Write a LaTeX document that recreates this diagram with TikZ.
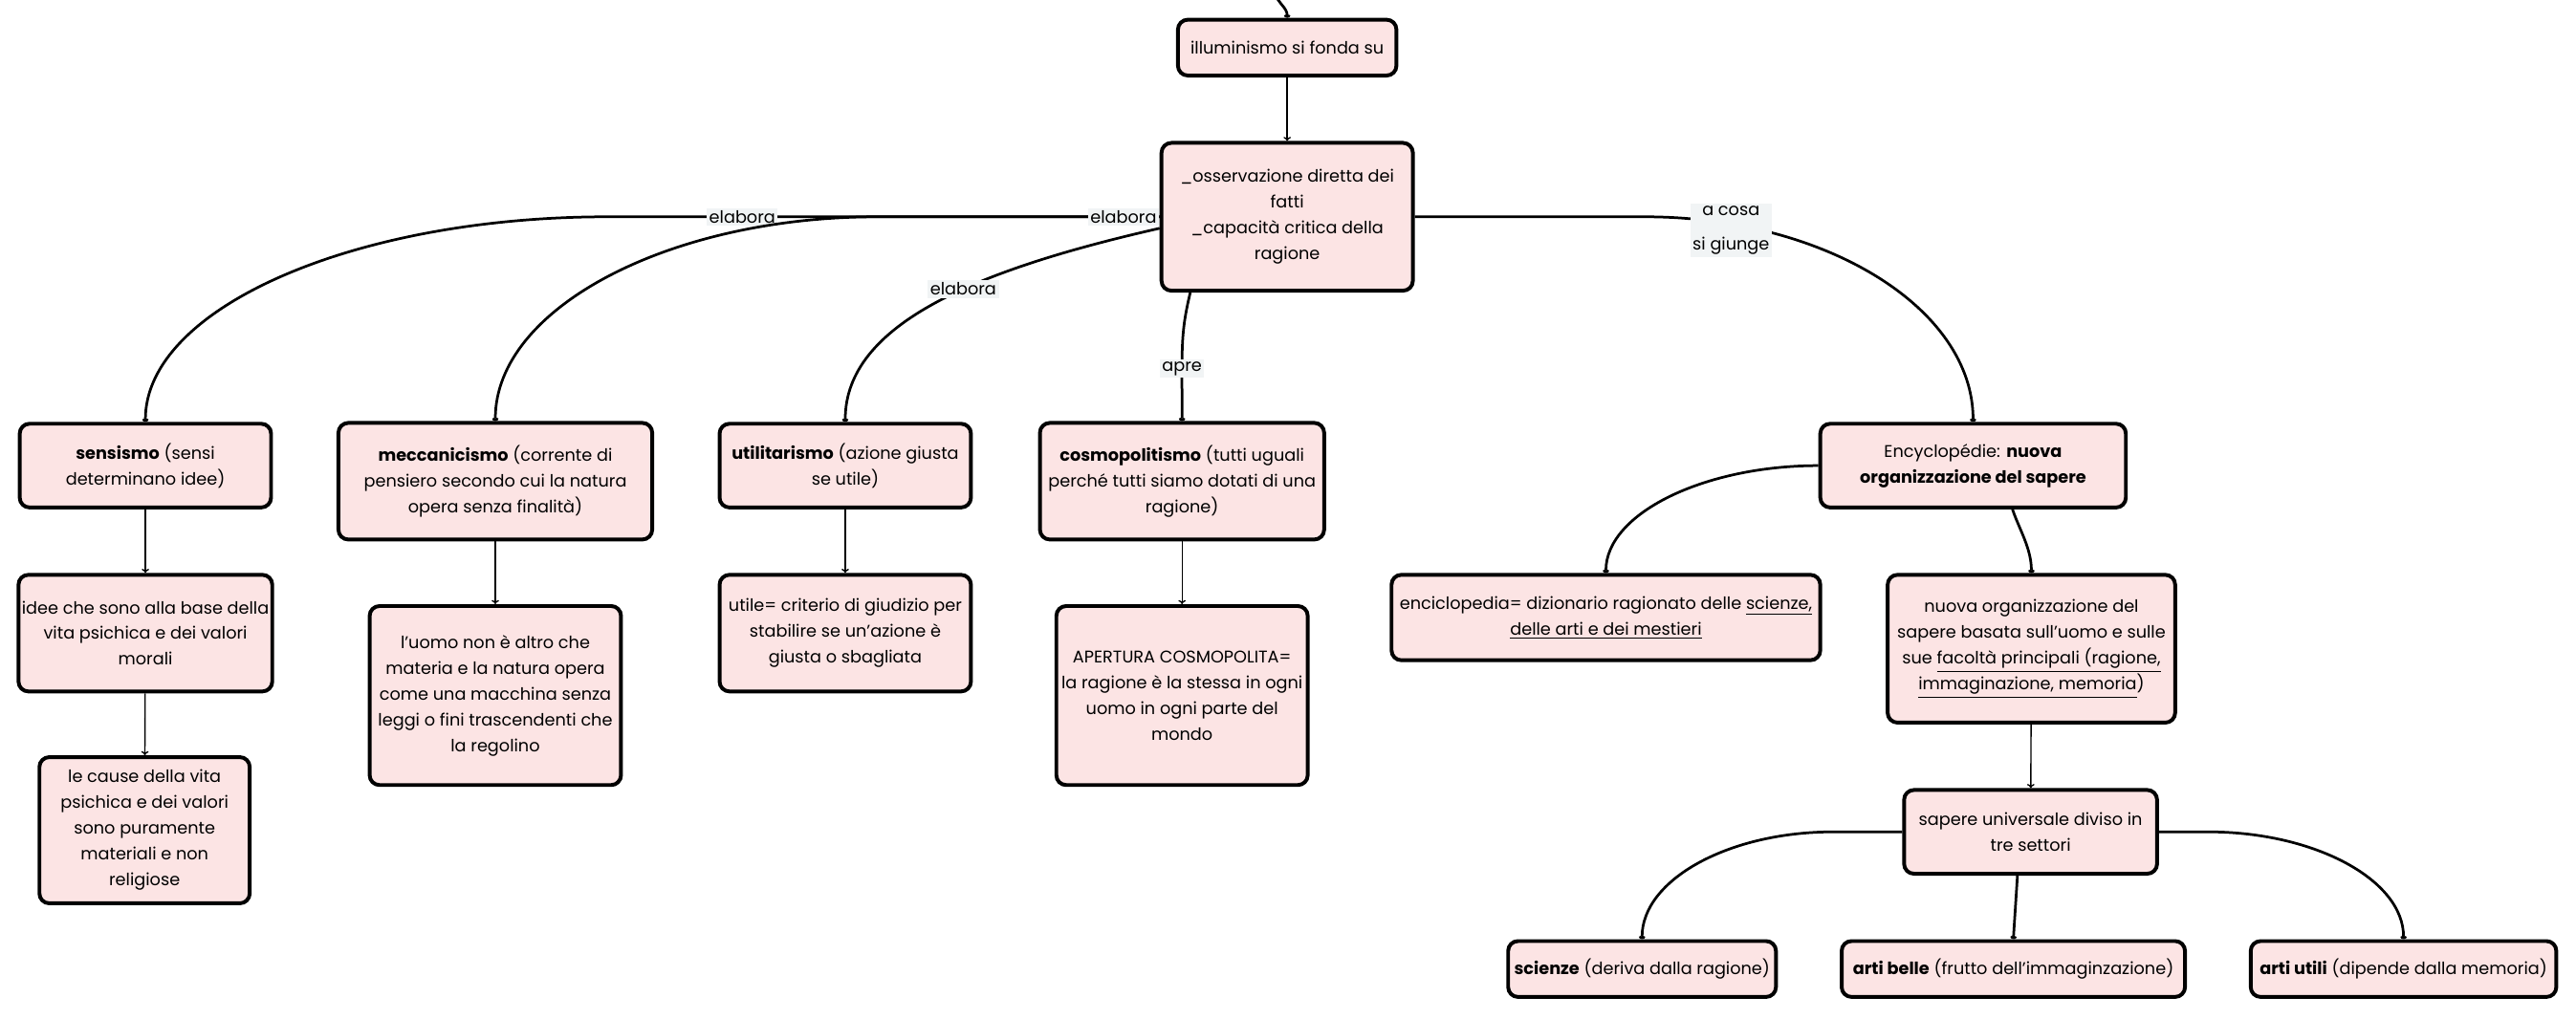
\documentclass[tikz,border=0pt]{standalone}
\usepackage{fontspec}
\setmainfont{Poppins}
\usepackage[HTML]{xcolor}
\usepackage{tikz}
\usetikzlibrary{positioning, arrows, arrows.meta}
\usetikzlibrary{calc}
\definecolor{boxpink}{HTML}{FCE4E4}
\definecolor{labgray}{HTML}{F1F4F5}

\begin{document}
\begin{tikzpicture}[x=1pt, y=-1pt,
  box/.style={draw, line width=2.3pt, rounded corners=6pt, fill=boxpink, align=center, inner sep=2pt, font=\fontsize{10.3}{15.7}\selectfont},
  link/.style={line width=1.6pt, -{To[length=2pt,width=4pt]}},
  vlink/.style={line width=0.8pt, -{To[length=2.5pt,width=4.5pt]}},
  lab/.style={fill=labgray, inner sep=1.5pt, align=center, font=\fontsize{10.3}{12}\selectfont}]
\useasboundingbox (0,0) rectangle (1568,620);
% concept map: illuminismo
\coordinate (src) at (776,-4);

\node[box, minimum width=133pt, minimum height=34pt] (illum) at (783.5,29) {illuminismo si fonda su};
\node[box, minimum width=153pt, minimum height=90pt] (obs) at (783.5,132) {\_osservazione diretta dei\\fatti\\\_capacità critica della\\ragione};

% first row
\node[box, minimum width=153pt, minimum height=51pt] (sens) at (88.5,283.5) {\textbf{sensismo} (sensi\\determinano idee)};
\node[box, minimum width=191pt, minimum height=71pt] (mecc) at (301.5,293) {\textbf{meccanicismo} (corrente di\\pensiero secondo cui la natura\\opera senza finalità)};
\node[box, minimum width=153pt, minimum height=51pt] (util) at (514.5,283.5) {\textbf{utilitarismo} (azione giusta\\se utile)};
\node[box, minimum width=173pt, minimum height=71pt] (cosmo) at (719.5,293) {\textbf{cosmopolitismo} (tutti uguali\\perché tutti siamo dotati di una\\ragione)};
\node[box, minimum width=186pt, minimum height=51pt] (ency) at (1201,283.5) {Encyclopédie: \textbf{nuova}\\\textbf{organizzazione del sapere}};

% second row
\node[box, minimum width=153pt, minimum height=71pt] (idee) at (88.5,385.5) {idee che sono alla base della\\vita psichica e dei valori\\morali};
\node[box, minimum width=128pt, minimum height=89pt] (cause) at (88,505.5) {le cause della vita\\psichica e dei valori\\sono puramente\\materiali e non\\religiose};
\node[box, minimum width=153pt, minimum height=109pt] (uomo) at (301.5,423.5) {l'uomo non è altro che\\materia e la natura opera\\come una macchina senza\\leggi o fini trascendenti che\\la regolino};
\node[box, minimum width=153pt, minimum height=71pt] (utile) at (514.5,385.5) {utile= criterio di giudizio per\\stabilire se un'azione è\\giusta o sbagliata};
\node[box, minimum width=153pt, minimum height=109pt] (apert) at (719.5,423.5) {APERTURA COSMOPOLITA=\\la ragione è la stessa in ogni\\uomo in ogni parte del\\mondo};
\node[box, minimum width=261pt, minimum height=52pt] (encic) at (977.5,376) {enciclopedia= dizionario ragionato delle \underline{scienze,}\\\underline{delle arti e dei mestieri}};
\node[box, minimum width=175pt, minimum height=90pt] (nuova) at (1236.5,395) {nuova organizzazione del\\sapere basata sull'uomo e sulle\\sue \underline{facoltà principali (ragione,}\\\underline{immaginazione, memoria})};

% three sectors
\node[box, minimum width=154pt, minimum height=51pt] (sapere) at (1236,506.5) {sapere universale diviso in\\tre settori};
\node[box, minimum width=163pt, minimum height=34pt] (scienze) at (999.5,590) {\textbf{scienze} (deriva dalla ragione)};
\node[box, minimum width=209pt, minimum height=34pt] (abelle) at (1225.5,590) {\textbf{arti belle} (frutto dell'immaginzazione)};
\node[box, minimum width=186pt, minimum height=34pt] (autili) at (1463,590) {\textbf{arti utili} (dipende dalla memoria)};

% connectors
\draw[link] (src) .. controls +(2,6) and +(0,-6) .. (illum.north);
\draw[vlink] (illum) -- (obs);
\draw[link] (obs.west) -- ++(-336,0) node[lab,pos=0.756] {elabora} .. controls +(-155,0) and +(0,-69) .. (sens.north);
\draw[link] (obs.west) -- ++(-172,0) node[lab,pos=0.128] {elabora} .. controls +(-126,0) and +(0,-69) .. (mecc.north);
\draw[link] ([yshift=-7pt]obs.west) .. controls +(-110,25) and +(0,-60) .. (util.north) node[lab,pos=0.42] {elabora};
\draw[link] ([xshift=-59pt]obs.south) .. controls +(-6,25) and +(0,-45) .. (cosmo.north) node[lab,pos=0.7] {apre};
\draw[link] (obs.east) -- ++(140,0) .. controls +(110,0) and +(0,-69) .. (ency.north) node[lab,pos=0.165,yshift=-4pt] {a cosa\\[9pt]si giunge};

\draw[vlink] (sens) -- (idee);
\draw[vlink] (idee) -- (cause);
\draw[vlink] (mecc) -- (uomo);
\draw[vlink] (util) -- (utile);
\draw[vlink] (cosmo) -- (apert);

\draw[link] (ency.west) .. controls +(-70,0) and +(0,-36) .. (encic.north);
\draw[link] ([xshift=24pt]ency.south) .. controls +(4,12) and +(0,-15) .. (nuova.north);
\draw[vlink] (nuova) -- (sapere);
\draw[link] (sapere.west) -- ++(-42,0) .. controls +(-64,0) and +(0,-36) .. (scienze.north);
\draw[link] ([xshift=-8pt]sapere.south) -- (abelle.north);
\draw[link] (sapere.east) -- ++(30,0) .. controls +(65,0) and +(0,-36) .. (autili.north);
\end{tikzpicture}
\end{document}
